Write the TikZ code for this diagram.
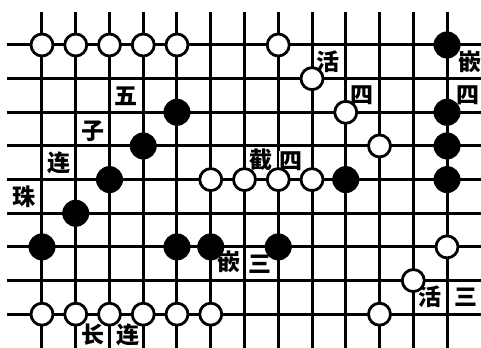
\documentclass[tikz,border=0pt]{standalone}
\usepackage{fontspec}
\newfontfamily\cjk{Noto Sans CJK SC}
\usetikzlibrary{positioning}

\tikzset{
  gridline/.style={line width=3pt},
  whitestone/.style={circle, draw, line width=2.8pt, fill=white, minimum size=22pt, inner sep=0pt},
  blackstone/.style={circle, fill=black, minimum size=27pt, inner sep=0pt},
  marklabel/.style={fill=white, inner sep=0.4pt, font=\cjk\bfseries\fontsize{23}{23}\selectfont},
}

\begin{document}
\begin{tikzpicture}[x=33.75pt, y=-33.65pt]
  \useasboundingbox (-1.244,-1.337) rectangle (13.007,9.004);
  % board
  \foreach \r in {0,...,8}
    \draw[gridline] (-1.04,\r) -- (13.2,\r);
  \foreach \c in {0,...,12}
    \draw[gridline] (\c,-0.98) -- (\c,9.2);
  % labels
  \node[marklabel] (wu)    at (2.5,1.53)   {五};
  \node[marklabel] (zi)    at (1.5,2.55)   {子};
  \node[marklabel] (lian)  at (0.5,3.5)    {连};
  \node[marklabel] (zhu)   at (-0.53,4.5)  {珠};
  \node[marklabel] (jie)   at (6.49,3.42)  {截};
  \node[marklabel] (sia)   at (7.38,3.45)  {四};
  \node[marklabel] (qiana) at (5.54,6.45)  {嵌};
  \node[marklabel] (sana)  at (6.46,6.53)  {三};
  \node[marklabel] (huoa)  at (11.5,7.49)  {活};
  \node[marklabel] (sanb)  at (12.56,7.49) {三};
  \node[marklabel] (chang) at (1.51,8.6)   {长};
  \node[marklabel] (lianb) at (2.55,8.6)   {连};
  \node[marklabel] (huob)  at (8.47,0.5)   {活};
  \node[marklabel] (sib)   at (9.48,1.49)  {四};
  \node[marklabel] (qianb) at (12.68,0.5)  {嵌};
  \node[marklabel] (sic)   at (12.62,1.49) {四};
  % stones
  \foreach \c/\r in {0/0,1/0,2/0,3/0,4/0,7/0,8/1,9/2,10/3,5/4,6/4,7/4,8/4,
                     12/6,11/7,0/8,1/8,2/8,3/8,4/8,5/8,10/8}
    \node[whitestone] (w-\c-\r) at (\c,\r) {};
  \foreach \c/\r in {12/0,4/2,12/2,3/3,12/3,2/4,9/4,12/4,1/5,0/6,4/6,5/6,7/6}
    \node[blackstone] (b-\c-\r) at (\c,\r) {};
\end{tikzpicture}
\end{document}
